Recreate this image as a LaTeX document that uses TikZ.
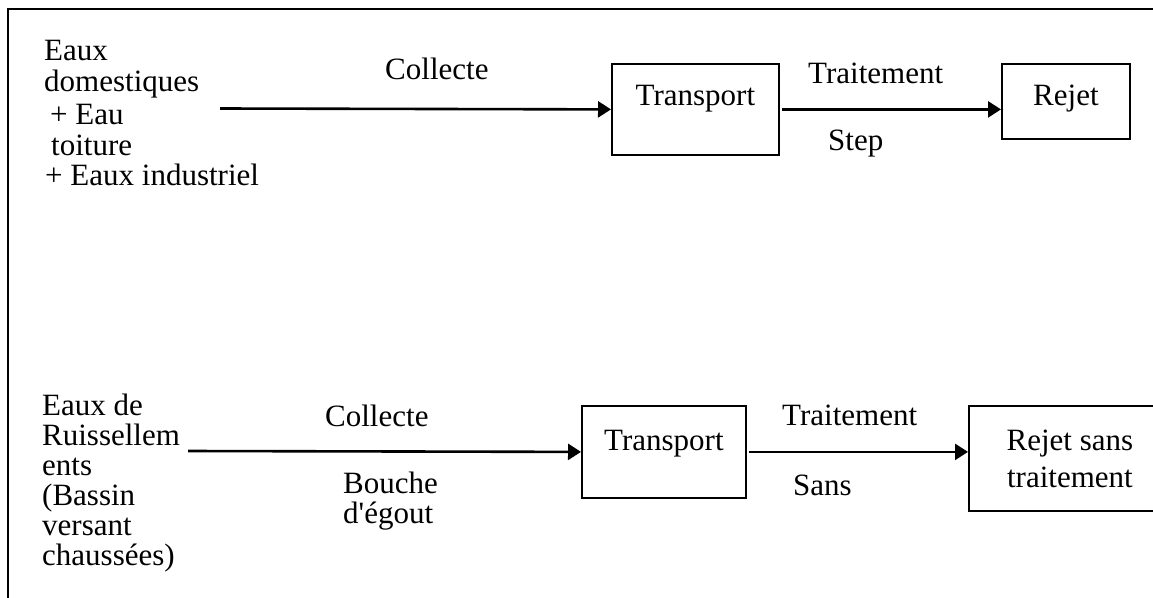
\documentclass[tikz,border=0pt]{standalone}
\usepackage{fontspec}
\setmainfont{Liberation Serif}
\usetikzlibrary{arrows.meta}
\begin{document}
\begin{tikzpicture}[x=1pt,y=-1pt,
  every node/.style={font=\fontsize{31}{31}\selectfont},
  txt/.style={anchor=base west,inner sep=0pt},
  box/.style={draw,line width=1.8pt,anchor=north west,inner sep=0pt},
  flow/.style={line width=2.6pt,-{Triangle[length=13pt,width=16pt]}},
  frame/.style={line width=2.8pt}]
\useasboundingbox (0,0) rectangle (1153,597);
\clip (0,0) rectangle (1153,597);
\fill[white] (0,0) rectangle (1153,597);
\draw[frame] (8,600) -- (8,9) -- (1160,9);

% top row
\node[txt] (a1) at (44,60) {Eaux};
\node[txt] (a2) at (44,91) {domestiques};
\node[txt] (a3) at (50,124) {+ Eau};
\node[txt] (a4) at (51,155) {toiture};
\node[txt] (a5) at (45,185) {+ Eaux industriel};

\node[box,minimum width=167pt,text height=42pt,text depth=49pt] (tr1) at (611,63) {Transport};
\node[box,minimum width=128pt,text height=42pt,text depth=33pt] (rj1) at (1001,63) {Rejet};

\coordinate (s1) at (220,108.5);
\draw[flow] (s1) -- (tr1.west);
\draw[flow] ([xshift=2pt]tr1.east) -- (tr1.east -| rj1.west);

\node[txt] (c1) at (385,79) {Collecte};
\node[txt] (t1) at (808,83) {Traitement};
\node[txt] (p1) at (828,150) {Step};

% bottom row
\node[txt] (b1) at (42,415) {Eaux de};
\node[txt] (b2) at (42,445) {Ruissellem};
\node[txt] (b3) at (42,475) {ents};
\node[txt] (b4) at (42,505) {(Bassin};
\node[txt] (b5) at (42,535) {versant};
\node[txt] (b6) at (42,565) {chaussées)};

\node[box,minimum width=164pt,text height=45pt,text depth=47pt] (tr2) at (581,405) {Transport};
\node[box,minimum width=202pt,minimum height=105pt,align=center,font=\fontsize{31}{37}\selectfont] (rj2) at (968,405) {Rejet sans\\traitement};

\coordinate (s2) at (188,451);
\draw[flow] (s2) -- (tr2.west);
\draw[flow] ([xshift=2pt]tr2.east) -- (tr2.east -| rj2.west);

\node[txt] (c2) at (325,426) {Collecte};
\node[txt] (o1) at (343,493) {Bouche};
\node[txt] (o2) at (343,523) {d\textquotesingle égout};
\node[txt] (t2) at (782,425) {Traitement};
\node[txt] (p2) at (793,495) {Sans};
\end{tikzpicture}
\end{document}
